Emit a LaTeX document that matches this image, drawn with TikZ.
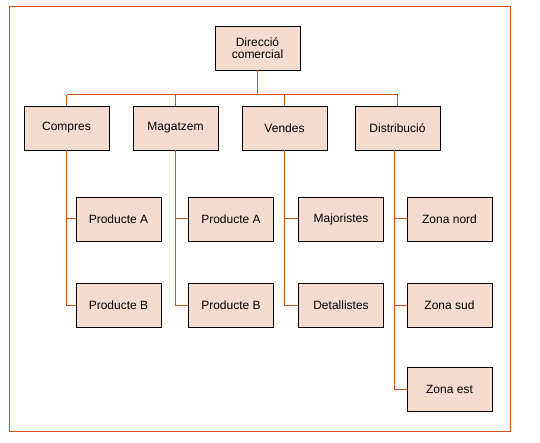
\documentclass[tikz,border=0pt]{standalone}
\usepackage{fontspec}
\setmainfont{Liberation Sans}
\definecolor{OrgLine}{RGB}{204,85,17}
\definecolor{OrgFill}{RGB}{246,220,206}

\begin{document}
\begin{tikzpicture}[x=1pt, y=-1pt,
    unit/.style={draw, line width=0.9pt, fill=OrgFill, minimum width=85pt, minimum height=44pt, inner sep=0pt, font=\fontsize{12}{12.5}\selectfont, align=center},
    link/.style={draw=OrgLine, line width=1pt}]
                \useasboundingbox (0,0) rectangle (540,443);
                \draw[link] (9,7) rectangle (510,431);
                % top level
                \node[unit] (dc) at (257.5,48) {Direcció\\comercial};
                % departments
                \node[unit] (compres) at (66.5,128) {Compres};
                \node[unit] (magatzem) at (175.5,128) {Magatzem};
                \node[unit] (vendes) at (284.5,128) {Vendes};
                \node[unit] (distrib) at (397.5,128) {Distribució};
                % sections
                \node[unit] (compresA) at (118.5,219) {Producte A};
                \node[unit] (compresB) at (118.5,305) {Producte B};
                \node[unit] (magatzemA) at (231,219) {Producte A};
                \node[unit] (magatzemB) at (231,305) {Producte B};
                \node[unit] (majoristes) at (341,219) {Majoristes};
                \node[unit] (detallistes) at (341,305) {Detallistes};
                \node[unit] (nord) at (449.5,219) {Zona nord};
                \node[unit] (sud) at (449.5,305) {Zona sud};
                \node[unit] (est) at (449.5,389) {Zona est};
                % connectors
                \coordinate (bus) at (0,95);
                \draw[link] (dc.south) -- (dc |- bus);
                \draw[link] (compres |- bus) -- (distrib |- bus);
                \foreach \d in {compres,magatzem,vendes,distrib}
                    \draw[link] (\d.north) -- (\d |- bus);
                \draw[link] (compres.south) |- (compresA.west);
                \draw[link] (compres.south) |- (compresB.west);
                \draw[link] (magatzem.south) |- (magatzemA.west);
                \draw[link] (magatzem.south) |- (magatzemB.west);
                \draw[link] (vendes.south) |- (majoristes.west);
                \draw[link] (vendes.south) |- (detallistes.west);
                \draw[link] ([xshift=-3pt]distrib.south) |- (nord.west);
                \draw[link] ([xshift=-3pt]distrib.south) |- (sud.west);
                \draw[link] ([xshift=-3pt]distrib.south) |- (est.west);
            \end{tikzpicture}
\end{document}
